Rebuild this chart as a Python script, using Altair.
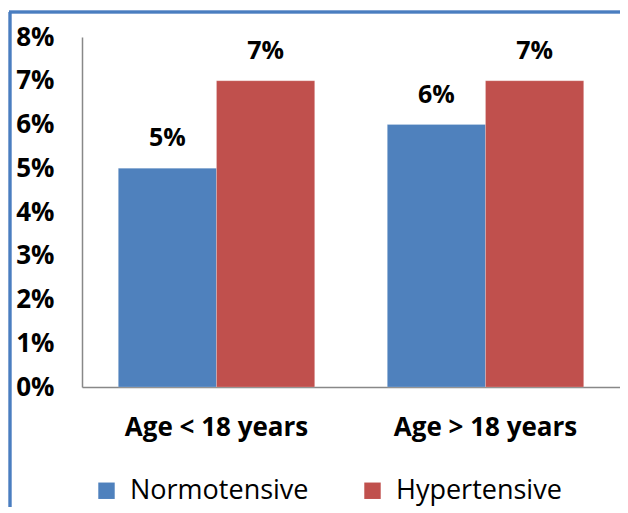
import altair as alt
import pandas as pd

categories = ["Age < 18 years", "Age > 18 years"]
series_names = ["Normotensive", "Hypertensive"]
normotensive = [0.05, 0.06]
hypertensive = [0.07, 0.07]
y_ticks = [0, 0.01, 0.02, 0.03, 0.04, 0.05, 0.06, 0.07, 0.08]
colors = ["#4F81BD", "#C0504D"]

rows = []
for i, c in enumerate(categories):
    rows.append({"cat": c, "series": series_names[0], "value": normotensive[i]})
    rows.append({"cat": c, "series": series_names[1], "value": hypertensive[i]})
df = pd.DataFrame(rows)

FONT = "Open Sans"

x = alt.X("cat:N", sort=categories, title=None,
          scale=alt.Scale(paddingInner=0.27, paddingOuter=0.135),
          axis=alt.Axis(labelAngle=0, labelFont=FONT, labelFontSize=26, labelFontWeight="bold",
                        labelColor="#000000", labelPadding=27, ticks=False, labelLimit=300,
                        domainColor="#888888", domainWidth=1.5))
xo = alt.XOffset("series:N", sort=series_names, scale=alt.Scale(paddingInner=0, paddingOuter=0))
y = alt.Y("value:Q", title=None,
          scale=alt.Scale(domain=[0, 0.08], nice=False),
          axis=alt.Axis(values=y_ticks, format=".0%", grid=False, ticks=False,
                        labelFont=FONT, labelFontSize=26, labelFontWeight="bold",
                        labelColor="#000000", labelPadding=28,
                        domainColor="#888888", domainWidth=1.5))

base = alt.Chart(df)

bars = base.mark_bar(stroke="#ffffff", strokeWidth=0.5, strokeOpacity=0.4).encode(
    x=x, xOffset=xo, y=y,
    color=alt.Color("series:N", sort=series_names,
                    scale=alt.Scale(domain=series_names, range=colors),
                    legend=alt.Legend(title=None, orient="none", legendX=11, legendY=440,
                                      direction="horizontal", symbolType="square",
                                      symbolSize=270, symbolStrokeWidth=0,
                                      labelFont=FONT, labelFontSize=27, labelColor="#000000",
                                      labelOffset=10, columnPadding=50, labelLimit=400)),
)

labels = base.mark_text(font=FONT, fontSize=25, fontWeight="bold", color="#000000",
                        baseline="alphabetic", dy=-22).encode(
    x=x, xOffset=xo, y=y, text=alt.Text("value:Q", format=".0%"),
)

border_left = alt.Chart(df).mark_rule(color="#4A7EC0", strokeWidth=2.5).encode(
    x=alt.value(-72), y=alt.value(-25), y2=alt.value(480))
border_top = alt.Chart(df).mark_rule(color="#4A7EC0", strokeWidth=2.5).encode(
    x=alt.value(-73), x2=alt.value(540), y=alt.value(-25))

chart = alt.layer(bars, labels, border_left, border_top).properties(
    width=538, height=350,
    autosize=alt.AutoSizeParams(type="none"),
    padding={"left": 74, "top": 29, "right": 0, "bottom": 120},
    background="#ffffff",
).configure_view(stroke=None)

chart.save("out.html", embed_options={"renderer": "svg", "actions": False})
